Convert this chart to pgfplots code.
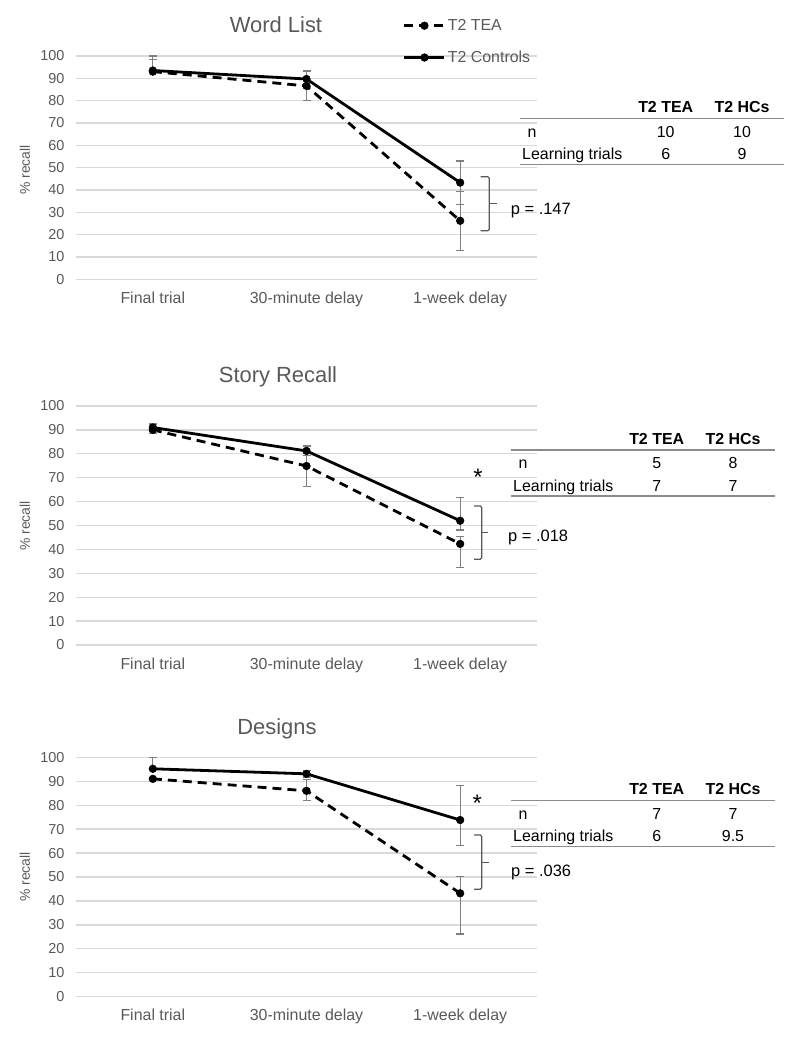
\documentclass[border=0pt]{standalone}
\usepackage{fontspec}
\setmainfont{Liberation Sans}
\usepackage{pgfplots}
\pgfplotsset{compat=1.18}
\definecolor{txtgray}{HTML}{595959}
\definecolor{gridgray}{HTML}{D9D9D9}
\definecolor{errgray}{HTML}{7F7F7F}
\definecolor{rulegray}{HTML}{8C8C8C}
\newcommand{\fs}[1]{\fontsize{#1}{#1}\selectfont}

\pgfplotsset{
  panel/.style={
    scale only axis, width=461bp, anchor=south west,
    xmin=-0.5, xmax=2.5, ymin=0, ymax=100,
    xtick={0,1,2}, xticklabels={Final trial,30-minute delay,1-week delay},
    ytick={0,10,...,100},
    ymajorgrids, major grid style={gridgray, line width=1.3bp},
    axis line style={draw=none}, major tick length=0pt,
    /pgf/number format/assume math mode=true,
    yticklabel style={font=\fs{14.5}, text=txtgray, xshift=-8bp},
    xticklabel style={font=\fs{16}, text=txtgray, yshift=-9bp},
    clip=false,
  },
  errs/.style={
    error bars/y dir=both, error bars/y explicit,
    error bars/error bar style={errgray, line width=1.2bp, solid},
    error bars/error mark options={errgray, rotate=90, mark size=4bp, line width=1.2bp, solid},
  },
  ctrl/.style={black, line width=2.8bp, mark=*, mark size=3.8bp, mark options={solid, line width=0.6bp}, errs},
  tea/.style={black, line width=2.8bp, dash pattern=on 9bp off 6bp, mark=*, mark size=3.8bp, mark options={solid, line width=0.6bp}, errs},
}

\newcommand{\pbrace}[6]{%
  \draw[txtgray, line width=1.2bp, rounded corners=1.5bp] (#1bp,-#4bp) -- (#2bp,-#4bp) -- (#2bp,-#5bp) -- (#1bp,-#5bp);
  \draw[txtgray, line width=1.2bp] (#2bp,-#6bp) -- (#3bp,-#6bp);}

\newcommand{\stattable}[6]{%
\begin{scope}[shift={(#1bp,-#2bp)}]
 \node[font=\fs{16}\bfseries, anchor=base] at (656.7bp,-5.8bp) {T2 TEA};
 \node[font=\fs{16}\bfseries, anchor=base] at (733bp,-5.8bp) {T2 HCs};
 \draw[rulegray, line width=1.4bp] (511bp,-11.5bp) -- (775bp,-11.5bp);
 \node[font=\fs{16}, anchor=base] at (523bp,-30.3bp) {n};
 \node[font=\fs{16}, anchor=base] at (656.7bp,-30.3bp) {#3};
 \node[font=\fs{16}, anchor=base] at (733bp,-30.3bp) {#4};
 \node[font=\fs{16}, anchor=base west, inner xsep=0pt] at (513bp,-52.8bp) {Learning trials};
 \node[font=\fs{16}, anchor=base] at (656.7bp,-52.8bp) {#5};
 \node[font=\fs{16}, anchor=base] at (733bp,-52.8bp) {#6};
 \draw[rulegray, line width=1.4bp] (511bp,-57.5bp) -- (775bp,-57.5bp);
\end{scope}}

\begin{document}
\begin{tikzpicture}
\useasboundingbox (0,0) rectangle (800bp,-1041bp);

% ---------- Panel 1: Word List ----------
\begin{axis}[panel, at={(76bp,-279.3bp)}, height=223.3bp,
  legend style={draw=none, fill=none, at={(axis description cs:0.709,1.064)}, anchor=west,
    font=\fs{16}, text=txtgray, row sep=15bp, inner sep=0pt, nodes={inner sep=2bp}},
  legend cell align=left,
  legend image code/.code={\draw[mark repeat=2,mark phase=2,#1] plot coordinates {(0bp,0bp) (20bp,0bp) (40bp,0bp)};}]
\addplot[tea] coordinates {(0,93.0) += (0,5.5) -= (0,0) (1,86.6) +- (0,6.6) (2,26.2) +- (0,13.2)};
\addlegendentry{T2 TEA}
\addplot[ctrl] coordinates {(0,93.5) += (0,6.5) -= (0,0) (1,89.7) +- (0,3.6) (2,43.3) +- (0,9.7)};
\addlegendentry{T2 Controls}
\end{axis}

% ---------- Panel 2: Story Recall ----------
\begin{axis}[panel, at={(76bp,-645bp)}, height=239bp]
\addplot[tea] coordinates {(0,90.0) +- (0,1.5) (1,74.9) +- (0,8.7) (2,42.3) += (0,3.0) -= (0,9.8)};
\addplot[ctrl] coordinates {(0,91.0) +- (0,1.5) (1,81.2) +- (0,2.0) (2,52.0) += (0,9.8) -= (0,3.9)};
\end{axis}

% ---------- Panel 3: Designs ----------
\begin{axis}[panel, at={(76bp,-996.7bp)}, height=239.4bp]
\addplot[tea] coordinates {(0,91.0) +- (0,0) (1,86.0) += (0,4.8) -= (0,4.2) (2,43.2) += (0,6.9) -= (0,17.0)};
\addplot[ctrl] coordinates {(0,95.2) += (0,4.8) -= (0,0) (1,93.1) += (0,1.4) -= (0,1.6) (2,73.8) += (0,14.4) -= (0,10.7)};
\end{axis}

% titles
\node[font=\fs{22}, text=txtgray, anchor=base] at (276bp,-32.9bp) {Word List};
\node[font=\fs{22}, text=txtgray, anchor=base] at (278bp,-382.9bp) {Story Recall};
\node[font=\fs{22}, text=txtgray, anchor=base] at (277bp,-734.2bp) {Designs};

% y labels
\node[font=\fs{14}, text=txtgray, rotate=90] at (25bp,-170bp) {\% recall};
\node[font=\fs{14}, text=txtgray, rotate=90] at (25bp,-526bp) {\% recall};
\node[font=\fs{14}, text=txtgray, rotate=90] at (25bp,-877bp) {\% recall};

% brackets, p-values, stars
\pbrace{480.7}{489.3}{496.7}{176.7}{230.7}{203.7}
\pbrace{474}{481.7}{488}{506}{559.3}{532.7}
\pbrace{474}{481.7}{489.3}{835}{889.3}{862.7}
\node[font=\fs{16.5}, anchor=base west, inner xsep=0pt] at (510.7bp,-214.2bp) {p = .147};
\node[font=\fs{16.5}, anchor=base west, inner xsep=0pt] at (508bp,-541.5bp) {p = .018};
\node[font=\fs{16.5}, anchor=base west, inner xsep=0pt] at (511bp,-876bp) {p = .036};
\node[font=\fs{24}, anchor=base] at (478bp,-485.6bp) {*};
\node[font=\fs{24}, anchor=base] at (477.3bp,-811.6bp) {*};

% tables
\stattable{9}{107}{10}{10}{6}{9}
\stattable{0}{438.3}{5}{8}{7}{7}
\stattable{0}{789}{7}{7}{6}{9.5}
\end{tikzpicture}
\end{document}
